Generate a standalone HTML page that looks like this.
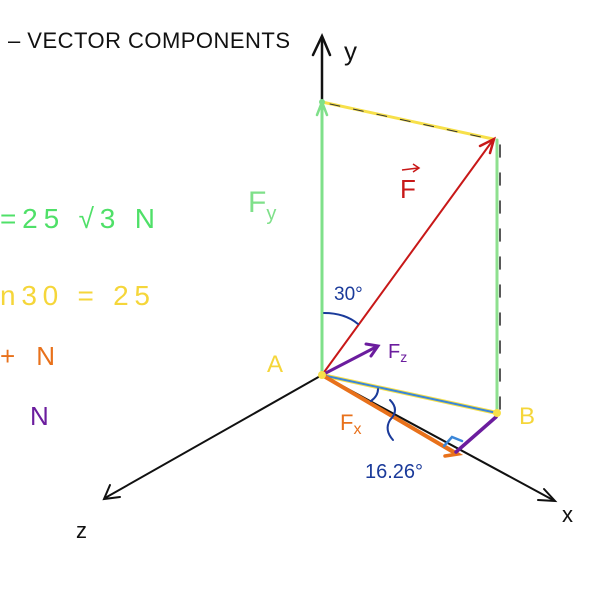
<!DOCTYPE html>
<html><head><style>body{margin:0;background:#fff}svg{display:block}text{font-family:"Liberation Sans",sans-serif}</style></head><body>
<svg width="600" height="600" viewBox="0 0 600 600" xmlns="http://www.w3.org/2000/svg">
<rect width="600" height="600" fill="#fff"/>
<g stroke-linecap="round" fill="none">
<line x1="322" y1="375" x2="322" y2="38" stroke="#111" stroke-width="2.5"/>
<path d="M313 55 L322 36 L330 55" stroke="#111" stroke-width="2.5"/>
<line x1="322" y1="375" x2="553" y2="500" stroke="#111" stroke-width="2"/>
<path d="M538 500 L555 501 L544 489" stroke="#111" stroke-width="2"/>
<line x1="322" y1="375" x2="105" y2="498" stroke="#111" stroke-width="2"/>
<path d="M110 485 L104 499 L120 497" stroke="#111" stroke-width="2"/>
<line x1="322" y1="375" x2="322" y2="102" stroke="#7fe08a" stroke-width="3"/>
<path d="M317 115 L322 102 L327 115" stroke="#7fe08a" stroke-width="2.5"/>
<line x1="322" y1="102" x2="493" y2="139" stroke="#f7e04a" stroke-width="3"/>
<line x1="330" y1="104" x2="490" y2="139" stroke="#333" stroke-width="1" stroke-dasharray="10 14"/>
<line x1="497" y1="140" x2="497" y2="413" stroke="#8ee08f" stroke-width="3"/>
<line x1="500" y1="145" x2="500" y2="410" stroke="#222" stroke-width="1.5" stroke-dasharray="12 16"/>
<line x1="322" y1="375" x2="493" y2="140" stroke="#c81818" stroke-width="2"/>
<path d="M480 146 L494 139 L490 153" stroke="#c81818" stroke-width="2.5"/>
<line x1="322" y1="375" x2="497" y2="413" stroke="#f7e04a" stroke-width="4"/>
<line x1="322" y1="375" x2="497" y2="413" stroke="#3a86d8" stroke-width="2"/>
<line x1="322" y1="375" x2="455" y2="453" stroke="#e8711b" stroke-width="4"/>
<path d="M446 447 L458 454 L445 456" stroke="#e8711b" stroke-width="3.5"/>
<path d="M444 446 L452 437 L462 441" stroke="#3a86d8" stroke-width="2.5"/>
<line x1="456" y1="452" x2="496" y2="417" stroke="#6b1d9e" stroke-width="3.5"/>
<line x1="322" y1="375" x2="376" y2="347" stroke="#6b1d9e" stroke-width="3"/>
<path d="M366 344 L378 346 L371 356" stroke="#6b1d9e" stroke-width="3"/>
<path d="M324 313 Q345 313 358 324" stroke="#1a3a9a" stroke-width="2"/>
<path d="M371 401 Q378 396 378 389" stroke="#1a3a9a" stroke-width="2"/>
<path d="M390 400 Q400 410 390 420 Q384 430 393 440" stroke="#1a3a9a" stroke-width="2"/>
</g>
<circle cx="322" cy="375" r="4" fill="#f7e04a"/>
<circle cx="497" cy="413" r="4" fill="#f7e04a"/>
<circle cx="322" cy="102" r="3" fill="#7fe08a"/>
<text x="8" y="48" font-size="22" fill="#111" textLength="282">– VECTOR COMPONENTS</text>
<text x="344" y="60" font-size="26" fill="#111">y</text>
<text x="562" y="522" font-size="22" fill="#111">x</text>
<text x="76" y="538" font-size="22" fill="#111">z</text>
<text x="400" y="198" font-size="26" fill="#c81818">F</text>
<path d="M402 170 L418 168 M413 164 L419 168 L413 172" stroke="#c81818" stroke-width="1.5" fill="none"/>
<text x="248" y="212" font-size="30" fill="#7fe08a">F<tspan font-size="20" dy="8">y</tspan></text>
<text x="334" y="300" font-size="19" fill="#1a3a9a">30°</text>
<text x="0" y="228" font-size="28" fill="#4fe068" textLength="155">=25 √3 N</text>
<text x="0" y="305" font-size="28" fill="#f5d63a" textLength="150">n30 = 25</text>
<text x="0" y="365" font-size="26" fill="#e8711b" textLength="55">+ N</text>
<text x="30" y="425" font-size="26" fill="#6b1d9e">N</text>
<text x="267" y="372" font-size="24" fill="#f5d63a">A</text>
<text x="519" y="424" font-size="24" fill="#f5d63a">B</text>
<text x="388" y="358" font-size="20" fill="#6b1d9e">F<tspan font-size="14" dy="4">z</tspan></text>
<text x="340" y="430" font-size="22" fill="#e8711b">F<tspan font-size="16" dy="4">x</tspan></text>
<text x="365" y="478" font-size="20" fill="#1a3a9a">16.26°</text>
</svg>
</body></html>
